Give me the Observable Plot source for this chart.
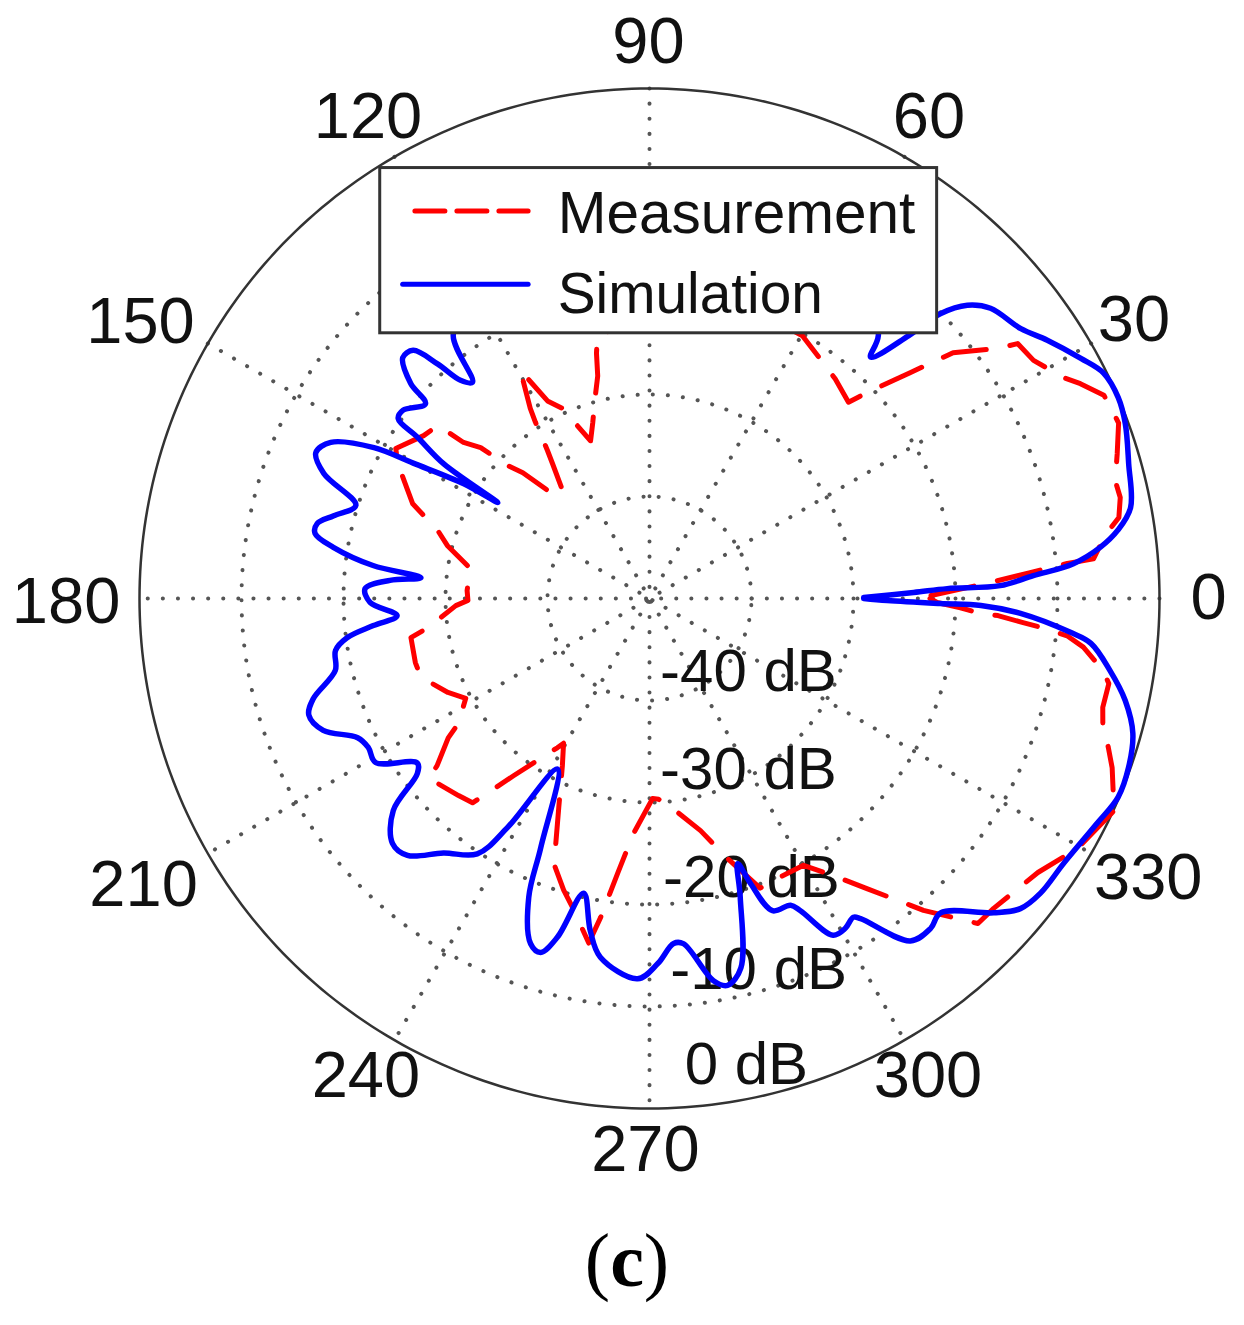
<!DOCTYPE html>
<html>
<head>
<meta charset="utf-8">
<script src="https://cdn.jsdelivr.net/npm/d3@7"></script>
<script src="https://cdn.jsdelivr.net/npm/@observablehq/plot@0.6"></script>
<style>
  body { margin: 0; background: white; }
  #caption { width: 1254px; text-align: center; font: 76px/90px "Liberation Serif", serif; height: 110px; }
</style>
</head>
<body>
<div id="myplot"></div>
<div id="caption">(<b>c</b>)</div>
<script>
// pattern values: degrees and dB, in drawing order
const simAngle = [0.3,1.3,1.9,2.1,3.4,4.7,6.5,8.3,10.7,15.7,20.2,23.2,26.4,29.1,33.0,36.0,40.4,42.7,44.4,45.4,47.5,49.0,58.8,97.0,121.0,126.7,129.3,130.9,132.1,133.6,135.7,138.0,139.0,142.6,144.4,145.2,146.8,147.7,148.3,150.2,151.3,153.9,156.4,159.0,162.4,165.3,167.3,169.0,170.8,173.2,174.8,176.0,178.0,180.8,183.9,185.6,187.4,189.4,192.9,196.6,198.9,202.0,205.5,207.9,210.9,215.3,217.0,219.6,223.6,226.7,231.0,236.0,238.2,241.7,246.4,248.0,251.0,252.9,254.8,257.4,259.9,262.2,268.2,271.3,274.0,275.6,279.5,281.4,283.9,286.9,288.4,289.5,291.5,294.7,295.8,298.6,300.7,302.6,303.4,307.3,310.4,312.8,317.6,320.1,323.0,327.4,333.3,337.0,340.6,344.4,347.9,351.1,354.2,355.4,357.7,358.8,359.0,359.5,0.0]
const simDb = [-29.0,-24.1,-20.8,-15.6,-12.3,-8.3,-5.5,-3.6,-2.0,-1.2,-0.3,0.0,-0.3,-1.6,-3.5,-5.0,-6.1,-7.6,-10.1,-13.8,-17.9,-15.8,-10.1,-10.7,-15.9,-17.8,-22.6,-21.7,-19.0,-16.4,-16.2,-18.5,-20.9,-19.6,-19.7,-22.3,-25.9,-32.4,-28.6,-23.3,-19.2,-15.2,-14.3,-15.8,-19.8,-18.0,-16.6,-16.6,-18.6,-22.7,-27.5,-24.5,-22.1,-22.6,-25.2,-22.8,-20.1,-18.8,-18.4,-15.6,-14.7,-15.5,-18.3,-18.8,-18.7,-22.1,-21.5,-17.4,-15.2,-15.4,-17.9,-19.8,-23.6,-31.0,-23.4,-18.4,-14.2,-13.7,-15.6,-20.4,-16.9,-14.5,-12.7,-14.2,-16.1,-16.0,-12.0,-11.3,-12.7,-19.4,-22.6,-20.4,-17.1,-16.9,-16.0,-12.4,-12.4,-12.9,-12.4,-7.8,-7.5,-8.0,-4.3,-2.6,-2.0,-1.8,-0.9,-0.1,-0.2,-0.8,-2.3,-4.3,-6.5,-8.6,-13.6,-17.5,-21.5,-26.7,-29.0]
const measAngle = [0.6,2.7,3.9,4.8,5.1,7.9,9.8,12.1,14.2,17.2,20.5,21.8,24.1,26.5,28.1,31.8,34.7,35.7,39.0,40.9,43.4,44.6,49.8,53.6,59.8,80.9,101.3,102.2,103.1,105.5,107.9,110.5,114.6,117.3,119.5,122.1,122.9,124.6,125.7,129.1,133.0,135.2,136.9,138.2,140.0,140.7,144.2,149.4,151.8,155.6,158.2,162.2,165.3,170.5,177.5,180.6,182.1,187.5,189.3,195.3,199.0,205.0,208.5,213.2,214.7,218.2,219.2,225.9,229.1,231.1,232.5,235.7,238.3,239.3,242.5,246.5,249.5,250.1,253.6,256.0,260.0,261.3,263.4,266.1,270.9,272.6,276.3,282.4,286.7,290.9,293.7,300.0,304.3,306.9,310.4,311.3,313.6,315.3,318.0,324.8,329.7,335.9,337.5,339.9,342.0,344.6,346.5,349.5,351.0,353.6,354.9,355.8,356.3,357.2,357.4,358.3,359.2,0.0]
const measDb = [-22.4,-16.5,-12.6,-8.9,-6.3,-4.9,-3.3,-2.8,-2.9,-2.0,-0.9,-1.0,-1.2,-2.8,-4.0,-5.7,-6.1,-8.0,-11.7,-16.2,-20.6,-22.6,-21.8,-21.3,-20.2,-18.4,-23.9,-25.4,-27.6,-29.9,-31.9,-33.5,-29.5,-28.2,-24.3,-28.0,-29.4,-32.4,-33.7,-36.6,-35.8,-32.5,-30.9,-27.8,-26.2,-23.2,-22.7,-21.1,-22.0,-23.9,-25.0,-28.2,-29.5,-32.2,-32.1,-32.2,-31.0,-28.1,-26.3,-26.2,-26.3,-28.2,-29.5,-27.6,-26.0,-23.5,-22.1,-23.1,-23.5,-26.4,-28.1,-31.0,-32.8,-33.5,-31.5,-27.7,-23.6,-22.4,-20.2,-18.8,-15.7,-18.4,-22.9,-26.9,-30.4,-30.3,-29.3,-26.7,-23.4,-19.6,-19.8,-19.8,-16.8,-14.4,-10.5,-9.3,-6.8,-4.7,-4.6,-3.4,-1.4,0.2,-0.8,-1.7,-2.7,-3.9,-4.3,-4.2,-5.0,-7.2,-8.9,-11.6,-13.3,-15.8,-17.5,-19.5,-21.8,-22.5]

const ringDb = [-40, -30, -20, -10]
const spokeAngles = [0, 30, 60, 90, 120, 150]
const angleLabels = [0, 30, 60, 90, 120, 150, 180, 210, 240, 270, 300, 330]
const dbLabels = ["-40 dB", "-30 dB", "-20 dB", "-10 dB", "0 dB"]
const legendLabels = ["Measurement", "Simulation"]

// layout, in plot units (one unit = one dB of radius)
const pxPerDb = 10.2
const cx = 649, cy = 598
const width = 1244, height = 1215
const dbFloor = -50
const angleLabelX = [54.8, 47.5, 27.4, -0.1, -27.6, -49.9, -57.2, -49.6, -27.8, -0.4, 27.3, 48.9]
const angleLabelY = [0, 27.3, 47.2, 54.5, 47.2, 27.1, -0.4, -28.1, -46.8, -54.1, -46.8, -27.4]
const dbLabelX = [9.7, 9.7, 10.0, 10.7, 9.5]
const dbLabelY = [-7.2, -16.8, -27.4, -36.4, -45.7]

const polar = (a, db) => {
  const r = db - dbFloor
  return { x: r * Math.cos(a * Math.PI / 180), y: r * Math.sin(a * Math.PI / 180) }
}
const sim = simAngle.map((a, i) => polar(a, simDb[i]))
const meas = measAngle.map((a, i) => polar(a, measDb[i]))

const circle = db => d3.range(0, 361, 1).map(a => ({ ...polar(a, db), db }))
const rings = ringDb.flatMap(circle)
const spokes = spokeAngles.flatMap(a => [
  { ...polar(a, 0), a },
  { ...polar(a + 180, 0), a }
])

const dots = { stroke: "#555", strokeWidth: 4, strokeLinecap: "round", strokeDasharray: "0.1 15" }

const plot = Plot.plot({
  width, height,
  margin: 0,
  x: { axis: null, domain: [-cx / pxPerDb, (width - cx) / pxPerDb] },
  y: { axis: null, domain: [(cy - height) / pxPerDb, cy / pxPerDb] },
  style: { fontFamily: "Liberation Sans", background: "white" },
  marks: [
    Plot.line(rings, { x: "x", y: "y", z: "db", ...dots }),
    Plot.line(spokes, { x: "x", y: "y", z: "a", ...dots }),
    Plot.line(circle(0), { x: "x", y: "y", stroke: "#333", strokeWidth: 2.5 }),
    Plot.text(angleLabels, {
      x: (a, i) => angleLabelX[i],
      y: (a, i) => angleLabelY[i],
      text: a => String(a),
      fontSize: 65,
      fill: "#111"
    }),
    Plot.text(dbLabels, {
      x: (d, i) => dbLabelX[i],
      y: (d, i) => dbLabelY[i],
      text: d => d,
      fontSize: 60,
      fill: "#111"
    }),
    Plot.line(meas, { x: "x", y: "y", stroke: "#ff0000", strokeWidth: 5, strokeDasharray: "44 24" }),
    Plot.line(sim, { x: "x", y: "y", stroke: "#0000ff", strokeWidth: 5.5, strokeLinejoin: "round", curve: "catmull-rom" }),
    // legend sits on top of the curves
    Plot.rect([0], { x1: -26.4, x2: 28.2, y1: 26.0, y2: 42.2, fill: "white", stroke: "#333", strokeWidth: 3 }),
    Plot.line([{ x: -23, y: 38.0 }, { x: -11.9, y: 38.0 }], { x: "x", y: "y", stroke: "#ff0000", strokeWidth: 5, strokeDasharray: "30 12" }),
    Plot.line([{ x: -24.2, y: 30.8 }, { x: -11.9, y: 30.8 }], { x: "x", y: "y", stroke: "#0000ff", strokeWidth: 5 }),
    Plot.text(legendLabels, {
      x: -9.0,
      y: (d, i) => [37.7, 29.8][i],
      text: d => d,
      textAnchor: "start",
      fontSize: (d, i) => [58.5, 56.8][i],
      fill: "#111"
    })
  ]
})

document.querySelector("#myplot").append(plot)
</script>
</body>
</html>
